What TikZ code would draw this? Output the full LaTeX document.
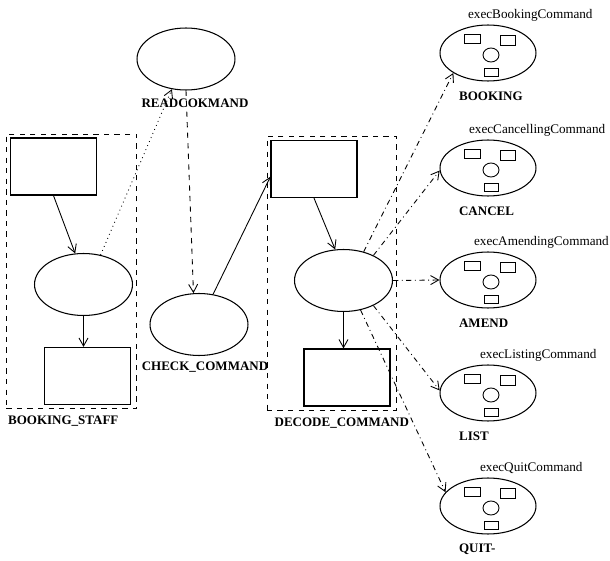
\documentclass[tikz,border=0pt]{standalone}
\usepackage{fontspec}
\setmainfont{Liberation Serif}
\usetikzlibrary{arrows.meta,positioning,fit,shapes.geometric,calc}
\tikzset{
  box/.style   ={draw,line width=0.7pt,minimum width=1.72cm,minimum height=1.14cm,inner sep=0pt},
  proc/.style  ={ellipse,draw,line width=0.6pt,minimum width=1.96cm,minimum height=1.24cm,inner sep=0pt},
  sub/.style   ={ellipse,draw,line width=0.6pt,minimum width=1.92cm,minimum height=1.12cm,inner sep=0pt},
  group/.style ={draw,dashed,line width=0.4pt,inner sep=0.07cm},
  tag/.style   ={font=\fontsize{7.4}{9}\selectfont\bfseries,inner sep=1pt},
  exec/.style  ={font=\fontsize{7.5}{9}\selectfont,inner sep=1pt},
  part/.style  ={line width=0.5pt},
  flow/.style  ={-{Straight Barb[length=1.6mm,width=1.8mm]},line width=0.5pt},
  fetch/.style ={flow,dotted},
  pass/.style  ={flow,dashed},
  call/.style  ={flow,dash dot}
}
\begin{document}
\begin{tikzpicture}[x=0.02cm,y=-0.02cm]
  \useasboundingbox (0,0) rectangle (610,561);
  % booking staff
  \node[box] (staffin) at (53.5,166.5) {};
  \node[proc] (staffproc) at (83.5,284.5) {};
  \node[box] (staffout) at (87.5,376) {};
  \node[group,fit=(staffin)(staffproc)(staffout)] (staff) {};
  \node[tag,below right=0.1cm and 0cm of staff.south west] (stafflbl) {BOOKING\_STAFF};
  % read and check
  \node[proc] (readcmd) at (186,59) {};
  \node[tag,below=0.12cm of readcmd,xshift=0.18cm] (readlbl) {READCOKMAND};
  \node[proc] (checkcmd) at (199,324.5) {};
  \node[tag,below=0.08cm of checkcmd,xshift=0.12cm] (checklbl) {CHECK\_COMMAND};
  % decode command
  \node[box] (decin) at (314,169) {};
  \node[proc] (decproc) at (343.5,280.5) {};
  \node[box] (decout) at (347,377.5) {};
  \node[group,fit=(decin)(decproc)(decout)] (decode) {};
  \node[tag,below right=0.1cm and 0.12cm of decode.south west] (decodelbl) {DECODE\_COMMAND};
  % command handlers
  \foreach \n/\cy/\ex/\exd/\st in {booking/53/execBookingCommand/-22/BOOKING,
      cancel/168/execCancellingCommand/-21/CANCEL, amend/280/execAmendingCommand/-16/AMEND,
      listing/393/execListingCommand/-10/LIST, quit/506/execQuitCommand/-10/QUIT-}{
    \node[sub] (\n) at (488,\cy) {};
    \node[exec,anchor=west] (\n ex) at (488+\exd,\cy-38) {\ex};
    \node[tag,anchor=west] (\n st) at (457,\cy+43) {\st};
    \draw[part] ($(\n)+(-24,-19)$) rectangle +(16,9);
    \draw[part] ($(\n)+(12,-18)$) rectangle +(15,10);
    \draw[part] ($(\n)+(3,2)$) ellipse [x radius=0.16cm,y radius=0.14cm];
    \draw[part] ($(\n)+(-4,15)$) rectangle +(14,8);
  }
  % connectors
  \draw[flow] (staffin.south) -- (staffproc.105);
  \draw[flow] (staffproc.south) -- (staffproc.south |- staffout.north);
  \draw[fetch] (staffproc.60) -- (readcmd.-115);
  \draw[pass] (readcmd.south) -- (checkcmd.100);
  \draw[flow] (checkcmd.65) -- (decin.190);
  \draw[flow] (decin.south) -- (decproc.105);
  \draw[flow] (decproc.south) -- (decproc.south |- decout.north);
  \draw[call] (decproc.55) -- (booking.210);
  \draw[call] (decproc.40) -- (cancel.183);
  \draw[call] (decproc.east) -- (amend.west);
  \draw[call] (decproc.-40) -- (listing.177);
  \draw[call] (decproc.-60) -- (quit.162);
\end{tikzpicture}
\end{document}
